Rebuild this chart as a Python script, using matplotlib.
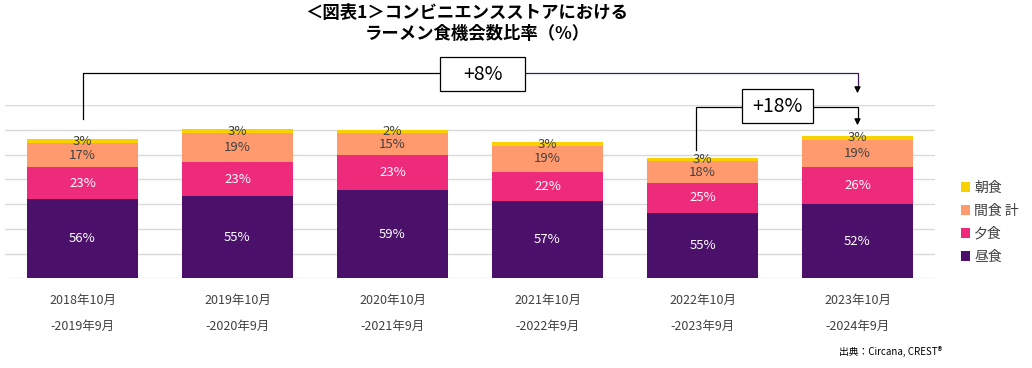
import matplotlib.pyplot as plt
from matplotlib.patches import Rectangle
import numpy as np

plt.rcParams['font.family'] = ['Noto Sans CJK JP', 'DejaVu Sans']

periods = ['2018年10月\n-2019年9月', '2019年10月\n-2020年9月', '2020年10月\n-2021年9月',
           '2021年10月\n-2022年9月', '2022年10月\n-2023年9月', '2023年10月\n-2024年9月']
# bar heights (index, read in gridline units)
totals = [5.63, 6.03, 5.99, 5.50, 4.87, 5.76]
# shares shown in labels (%)
lunch = [56, 55, 59, 57, 55, 52]
dinner = [23, 23, 23, 22, 25, 26]
snack = [17, 19, 15, 19, 18, 19]
breakfast = [3, 3, 2, 3, 3, 3]

series = [('昼食', lunch, '#4a106a', 'white'),
          ('夕食', dinner, '#ee2a7b', 'white'),
          ('間食 計', snack, '#ff9a6e', '#404040'),
          ('朝食', breakfast, '#f7d200', '#404040')]

fig = plt.figure(figsize=(10.32, 3.68), dpi=100)
ax = fig.add_axes([5 / 1032, 1 - 278.3 / 368, 930 / 1032, 173.3 / 368])

x = np.arange(len(periods))
shares = np.array([s[1] for s in series], dtype=float)
heights = shares / shares.sum(axis=0) * np.array(totals)
bottom = np.zeros(len(periods))
handles = []
for (name, vals, color, tcol), h in zip(series, heights):
    b = ax.bar(x, h, bottom=bottom, width=0.715, color=color, label=name, zorder=2)
    handles.append(b)
    for xi, bi, hi, v in zip(x, bottom, h, vals):
        ax.text(xi, bi + hi / 2, f'{v}%', ha='center', va='center', color=tcol, fontsize=9.5, zorder=3)
    bottom += h

ax.set_xlim(-0.5, 5.5)
ax.set_ylim(0, 7)
ax.set_yticks(range(8))
ax.yaxis.grid(True, color='#d9d9d9', lw=1, zorder=0)
ax.tick_params(left=False, labelleft=False, bottom=False)
for s in ax.spines.values():
    s.set_visible(False)
ax.set_xticks(x)
ax.set_xticklabels(periods, fontsize=9, color='#404040', linespacing=2.3)
ax.tick_params(axis='x', pad=8)

# growth annotations, positions given in pixels of the original
def py(p):
    return (278.3 - p) / 24.76

def px(p):
    return (p - 5) / 155 - 0.5

def box(x0, x1, y0, y1, label):
    ax.add_patch(Rectangle((px(x0), py(y1)), px(x1) - px(x0), py(y0) - py(y1), fc='white',
                           ec='black', lw=0.9, clip_on=False, zorder=5))
    ax.text((px(x0) + px(x1)) / 2, (py(y0) + py(y1)) / 2, label, ha='center', va='center',
            fontsize=14, zorder=6)

# +8%
ax.plot([0, 0, px(440)], [py(119), py(73), py(73)], color='black', lw=0.9, clip_on=False)
ax.plot([px(525), 5.0, 5.0], [py(73), py(73), py(88)], color='#3d1a5a', lw=0.9, clip_on=False)
ax.annotate('', xy=(5.0, py(96)), xytext=(5.0, py(87)),
            arrowprops=dict(arrowstyle='-|>', color='black', lw=0.9, mutation_scale=9), annotation_clip=False)
box(440, 525, 57, 91, '+8%')

# +18%
ax.plot([3.96, 3.96, px(742)], [py(150), py(107), py(107)], color='black', lw=0.9, clip_on=False)
ax.plot([px(813), 5.0, 5.0], [py(107), py(107), py(120)], color='black', lw=0.9, clip_on=False)
ax.annotate('', xy=(5.0, py(128)), xytext=(5.0, py(119)),
            arrowprops=dict(arrowstyle='-|>', color='black', lw=0.9, mutation_scale=9), annotation_clip=False)
box(742, 813, 89, 123, '+18%')

fig.legend(handles[::-1], [s[0] for s in series][::-1], loc='upper left',
           bbox_to_anchor=(948 / 1032, 1 - 168 / 368), frameon=False, fontsize=10,
           handlelength=0.7, handleheight=0.7, handletextpad=0.3, labelspacing=0.65,
           labelcolor='#404040')

fig.text(467 / 1032, 1 - 13 / 368, '＜図表1＞コンビニエンスストアにおける', ha='center', va='center',
         fontsize=12.5, fontweight='bold')
fig.text(477 / 1032, 1 - 34 / 368, 'ラーメン食機会数比率（%）', ha='center', va='center',
         fontsize=12.5, fontweight='bold')
fig.text(942 / 1032, 1 - 352 / 368, '出典：Circana, CREST®', ha='right', va='center', fontsize=7)

fig.savefig('out.png', dpi=100)
